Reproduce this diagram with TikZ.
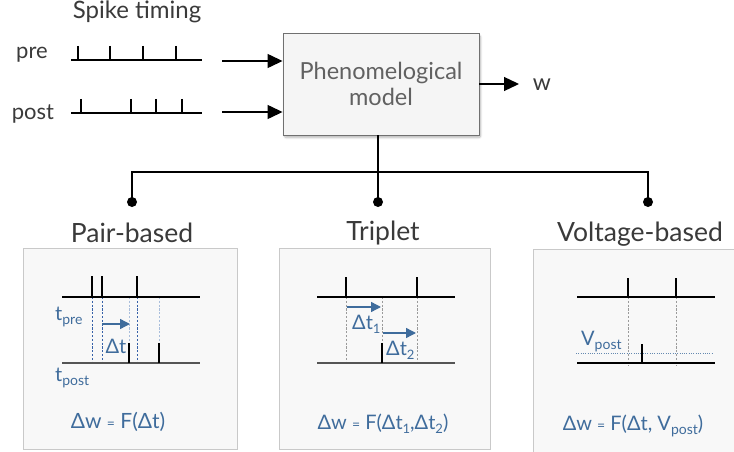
\documentclass[tikz,border=0pt]{standalone}
\usepackage{fontspec}
\setmainfont{Lato}
\usetikzlibrary{arrows.meta,shadows.blur}

\definecolor{txtgray}{HTML}{3A3A3A}
\definecolor{boxline}{HTML}{707070}
\definecolor{boxfill}{HTML}{F5F5F5}
\definecolor{plotblue}{HTML}{3F6C9C}
\definecolor{deepblue}{HTML}{3560A8}
\definecolor{paleblue}{HTML}{A9BEDC}
\definecolor{panelfill}{HTML}{F8F8F8}
\definecolor{panelline}{HTML}{C9C9C9}
\definecolor{guidegray}{HTML}{9A9A9A}
\definecolor{postgray}{HTML}{555555}

\newcommand{\fsz}[1]{\fontsize{#1}{#1}\selectfont}
\newcommand{\lowsub}[2][13]{\raisebox{-0.45ex}{\fontsize{#1}{#1}\selectfont #2}}
\newcommand{\eqsign}{ {\fsz{14}=} }

\tikzset{
  lbl/.style={text=txtgray, inner sep=0pt, anchor=base},
  heading/.style={lbl, font=\fsz{26.5}},
  blue text/.style={text=plotblue, inner sep=0pt, anchor=base, font=\fsz{20}},
  train/.style={line width=1.3pt, draw=black},
  posttrain/.style={line width=2pt, draw=postgray},
  feed/.style={line width=1.3pt, -{Triangle[length=15pt,width=14pt]}},
  tree/.style={line width=1.3pt},
  dot/.style={circle, fill=black, inner sep=0pt, minimum size=10pt},
  panel/.style={draw=panelline, fill=panelfill, line width=0.9pt, inner sep=0pt},
  guide/.style={dash pattern=on 2.2pt off 1.6pt, line width=0.75pt},
  shift arrow/.style={draw=plotblue, line width=1.4pt, -{Triangle[length=10pt,width=10pt]}},
}

\begin{document}
\begin{tikzpicture}[x=1pt, y=-1pt]
\useasboundingbox (0,0) rectangle (734,452);

% ---------- input spike trains ----------
\node[lbl, font=\fsz{24}] (title) at (137,19) {Spike timing};
\node[lbl, font=\fsz{22}] (prelab) at (32,59) {pre};
\node[lbl, font=\fsz{22}] (postlab) at (33,120) {post};

\draw[train, line width=1.1pt] (71,60) -- (202,60);
\foreach \x in {78,110,143,176} \draw[line width=1.1pt] (\x,46) -- (\x,60);
\draw[train, line width=1.1pt] (71,113) -- (202,113);
\foreach \x in {81,131,156,182} \draw[line width=1.1pt] (\x,99) -- (\x,113);

% ---------- model block ----------
\node[draw=boxline, fill=boxfill, line width=0.9pt, minimum width=196pt, minimum height=102pt,
      align=center, text=txtgray!80, font=\fsz{23.5}, inner sep=0pt,
      blur shadow={shadow blur steps=10, shadow xshift=1.5pt, shadow yshift=-2.5pt, shadow opacity=30, shadow blur extra rounding=2pt}]
      (model) at (381,84) {Phenomelogical\\[2pt]model};

\coordinate (prein) at (222,61);
\coordinate (postin) at (222,112);
\draw[feed] (prein) -- (prein -| model.west);
\draw[feed] (postin) -- (postin -| model.west);

\node[lbl, font=\fsz{23}] (w) at (542,91) {w};
\draw[feed] (model.east |- 0,84) -- (519,84);

% ---------- branching to the three rule families ----------
\node[dot] (dpair) at (132,202) {};
\node[dot] (dtrip) at (378,202) {};
\node[dot] (dvolt) at (648,202) {};
\draw[tree] (dtrip.center) -- (dtrip |- model.south);
\draw[tree] (dpair.center) -- ++(0,-30) -| (dvolt.center);

\node[heading] (pairlab) at (132,242) {Pair-based};
\node[heading] (triplab) at (383,240) {Triplet};
\node[heading] (voltlab) at (640,241) {Voltage-based};

% ---------- panels ----------
\node[panel, minimum width=214pt, minimum height=201pt] (pairbox) at (130,348.5) {};
\node[panel, minimum width=211pt, minimum height=201pt] (tripbox) at (384.5,348.5) {};
\node[panel, minimum width=214pt, minimum height=215pt] (voltbox) at (640,356.5) {};

% pair-based
\foreach \x in {92,102,137} \draw[guide, draw=deepblue] (\x,297) -- (\x,363);
\foreach \x in {129,159} \draw[guide, draw=paleblue] (\x,297) -- (\x,343);
\draw[train] (62,297) -- (200,297);
\draw[posttrain] (62,363) -- (200,363);
\foreach \x in {92,102,137} \draw[line width=1.2pt] (\x,276) -- (\x,297);
\foreach \x in {129,159} \draw[line width=1.2pt] (\x,343) -- (\x,363);
\draw[shift arrow] (102,324) -- (130,324);
\node[blue text] (dt) at (116,353) {Δt};
\node[blue text, anchor=base west] (tpre) at (55,320) {t\lowsub[14]{pre}};
\node[blue text, anchor=base west] (tpost) at (55,381) {t\lowsub[14]{post}};
\node[blue text, font=\fsz{21}] (fpair) at (118,428) {Δw\eqsign F(Δt)};

% triplet
\foreach \x in {346,382,417} \draw[guide, draw=guidegray] (\x,297) -- (\x,363);
\draw[train] (317,297) -- (455,297);
\draw[posttrain] (317,363) -- (455,363);
\foreach \x in {346,417} \draw[line width=1.2pt] (\x,277) -- (\x,297);
\draw[line width=1.2pt] (382,343) -- (382,363);
\draw[shift arrow] (347,307) -- (381,307);
\draw[shift arrow] (383,333) -- (416,333);
\node[blue text, anchor=base west] (dt1) at (352,329) {Δt\lowsub{1}};
\node[blue text, anchor=base west] (dt2) at (386,355) {Δt\lowsub{2}};
\node[blue text, font=\fsz{20}] (ftrip) at (383,429) {Δw\eqsign F(Δt\lowsub{1},Δt\lowsub{2})};

% voltage-based
\foreach \x in {628,676} \draw[guide, draw=guidegray] (\x,297) -- (\x,366);
\draw[draw=plotblue!80, line width=0.9pt, dash pattern=on 1pt off 1.3pt] (576,353) -- (712,353);
\draw[train] (577,297) -- (715,297);
\draw[train] (577,363) -- (715,363);
\foreach \x in {628,676} \draw[line width=1.2pt] (\x,278) -- (\x,297);
\draw[line width=1.2pt] (642,344) -- (642,363);
\node[blue text, anchor=base west] (vpost) at (581,345) {V\lowsub[14]{post}};
\node[blue text, font=\fsz{20}] (fvolt) at (633,430) {Δw\eqsign F(Δt, V\lowsub[14]{post})};
\end{tikzpicture}
\end{document}
